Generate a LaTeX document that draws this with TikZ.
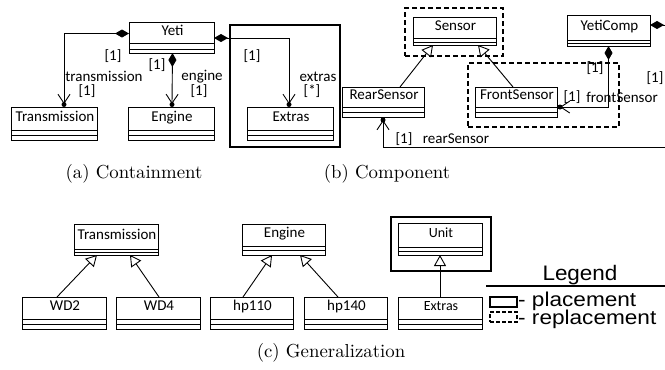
\documentclass[tikz,border=0pt]{standalone}
\usepackage{fontspec}
\usepackage{graphicx}
\newfontfamily\diafont{Carlito}
\newfontfamily\legfont{Liberation Sans}
\newfontfamily\capfont{lmroman10-regular.otf}
\usetikzlibrary{arrows.meta,calc}

\tikzset{
  clsbox/.style={draw, inner sep=0pt, outer sep=0pt, line width=0.9pt, fill=white},
  clstext/.style={inner sep=0pt, text height=0.7em, text depth=0.2em},
  lbl/.style={font=\diafont\fontsize{15}{15}\selectfont, inner sep=0pt, anchor=base},
  conn/.style={line width=0.9pt},
  compo/.style={conn, {Diamond[length=14pt,width=8pt]}-{Straight Barb[length=9pt,width=12pt]}},
  navi/.style={conn, -{Straight Barb[length=9pt,width=12pt]}},
  gen/.style={conn, -{Triangle[open,length=11pt,width=12pt,fill=white]}},
  placebox/.style={draw, line width=2.5pt, inner sep=0pt, outer sep=0pt},
  replbox/.style={draw, line width=2.5pt, dash pattern=on 5pt off 3pt, inner sep=0pt, outer sep=0pt},
  owndot/.style={fill, circle, inner sep=0pt, minimum size=5pt},
  captext/.style={font=\capfont\fontsize{18.8}{20}\selectfont, inner sep=0pt, anchor=base},
  legtext/.style={font=\legfont\fontsize{20}{20}\selectfont, inner sep=0pt},
}

% #1 font size, #2 name, #3 x1, #4 y1, #5 x2, #6 y2, #7 text, #8 first line offset, #9 second line offset
\newcommand\umlcls[9][15]{%
  \node[clsbox, minimum width={(#5-#3)*1pt}, minimum height={(#6-#4)*1pt}, anchor=north west] (#2) at (#3,#4) {};
  \draw[line width=0.9pt] (#3,#6-#8) -- (#5,#6-#8) (#3,#6-#9) -- (#5,#6-#9);
  \node[clstext, font=\diafont\fontsize{#1}{#1}\selectfont] (#2-t) at ({(#3+#5)/2+1},{(#4+#6-#8)/2}) {#7};
}

\begin{document}
\begin{tikzpicture}[x=1pt,y=-1pt]
\useasboundingbox (0,0) rectangle (665,370);

% ---------------- (a) Containment ----------------
\node[placebox, minimum width=110pt, minimum height=122pt, anchor=north west] (plA) at (230,25) {};
\umlcls{yeti}{129}{22}{214}{53}{Yeti}{10}{4}
\umlcls{trans}{11}{107}{97}{140}{Transmission}{10}{5}
\umlcls{eng}{128}{107}{214}{140}{Engine}{10}{5}
\umlcls{ext}{247}{107}{333}{140}{Extras}{10}{5}

\draw[compo] ($(yeti.west)+(0,-4)$) -| ($(trans.north)+(10,-3)$);
\node[owndot] (dtr) at ($(trans.north)+(10,-2.5)$) {};
\draw[compo] ($(yeti.south)+(1,0)$) -- ($(eng.north)+(1,-3)$);
\node[owndot] (den) at ($(eng.north)+(1,-2.5)$) {};
\draw[compo] ($(yeti.east)+(0,0.5)$) -| ($(ext.north)+(-1,-3)$);
\node[owndot] (dex) at ($(ext.north)+(-1,-2.5)$) {};

\node[lbl] (la1) at (113,60) {[1]};
\node[lbl] (la2) at (104,81) {transmission};
\node[lbl] (la3) at (87,95) {[1]};
\node[lbl] (la4) at (157,69) {[1]};
\node[lbl] (la5) at (202,80) {engine};
\node[lbl] (la6) at (199,95) {[1]};
\node[lbl] (la7) at (252,60) {[1]};
\node[lbl] (la8) at (318,81) {extras};
\node[lbl] (la9) at (312,95) {[*]};

% ---------------- (b) Component ----------------
\node[replbox, minimum width=98pt, minimum height=48pt, anchor=north west] (rpS) at (405,8) {};
\node[replbox, minimum width=151pt, minimum height=64pt, anchor=north west] (rpF) at (468,63) {};
\umlcls{sensor}{413}{17}{496}{45}{Sensor}{7}{3}
\umlcls{rear}{342}{87}{424}{117}{RearSensor}{10}{5}
\umlcls{front}{475}{87}{557}{117}{FrontSensor}{10}{5}
\umlcls{yc}{567}{15}{650}{46}{YetiComp}{6}{3}

\draw[gen] ($(rear.north)+(17,0)$) -- ($(sensor.south)+(-21.5,0)$);
\draw[gen] ($(front.north)+(-3,0)$) -- ($(sensor.south)+(23.5,0)$);

\draw[compo] (yc.south) |- ($(front.east)+(3,5)$);
\node[owndot] (dfs) at ($(front.east)+(3,5)$) {};

\coordinate (ycout) at (668,25);
\draw[conn, {Diamond[length=14pt,width=8pt]}-] ($(yc.east)+(0,-5.5)$) -- (ycout);

\coordinate (rsout) at (668,147);
\draw[navi] (rsout) -| ($(rear.south)+(0,3)$);
\node[owndot] (drs) at ($(rear.south)+(0,3)$) {};

\node[lbl] (lb1) at (595,72) {[1]};
\node[lbl] (lb2) at (572,101) {[1]};
\node[lbl] (lb3) at (622,102) {frontSensor};
\node[lbl] (lb4) at (655,82) {[1]};
\node[lbl] (lb5) at (404,143) {[1]};
\node[lbl] (lb6) at (456,143) {rearSensor};

% captions
\node[captext] (capa) at (134,178) {(a) Containment};
\node[captext] (capb) at (387,178) {(b) Component};
\node[captext] (capc) at (331,357) {(c) Generalization};

% ---------------- (c) Generalization ----------------
\umlcls{tr2}{74}{224}{158}{255}{Transmission}{6}{3}
\umlcls{wd2}{22}{297}{106}{329}{WD2}{10}{5}
\umlcls{wd4}{116}{297}{200}{329}{WD4}{10}{5}
\umlcls{en2}{242}{224}{325}{255}{Engine}{9}{5}
\umlcls{hp1}{210}{297}{293}{329}{hp110}{10}{5}
\umlcls{hp2}{304}{297}{387}{329}{hp140}{10}{5}
\node[placebox, minimum width=100pt, minimum height=54pt, anchor=north west] (plC) at (391,217) {};
\umlcls[14]{unit}{398}{223}{482}{255}{Unit}{8}{4}
\umlcls[14]{ext2}{398}{297}{482}{329}{Extras}{10}{5}

\draw[gen] ($(wd2.north)+(-7,0)$) -- ($(tr2.south)+(-19,0)$);
\draw[gen] ($(wd4.north)+(1,0)$) -- ($(tr2.south)+(14,0)$);
\draw[gen] ($(hp1.north)+(-8.5,0)$) -- ($(en2.south)+(-11.5,0)$);
\draw[gen] ($(hp2.north)+(-7.5,0)$) -- ($(en2.south)+(16.5,0)$);
\draw[gen] (ext2.north) -- (unit.south);

% ---------------- Legend ----------------
\node[font=\legfont\fontsize{21}{21}\selectfont, inner sep=0pt, anchor=base] (leg) at (580,280) {\scalebox{1.07}[1]{Legend}};
\coordinate (lgl) at (486,286);
\coordinate (lgr) at (666,286);
\draw[line width=1.5pt] (lgl) -- (lgr);
\node[placebox, line width=2pt, minimum width=27pt, minimum height=10pt, anchor=north west] (lgp) at (490,297) {};
\node[legtext, anchor=base west] (lgpt) at (518,306) {\scalebox{1.13}[1]{- placement}};
\node[replbox, line width=2pt, dash pattern=on 4pt off 2pt, minimum width=27pt, minimum height=10pt, anchor=north west] (lgrp) at (490,312) {};
\node[legtext, anchor=base west] (lgrt) at (518,324) {\scalebox{1.13}[1]{- replacement}};
\end{tikzpicture}
\end{document}
